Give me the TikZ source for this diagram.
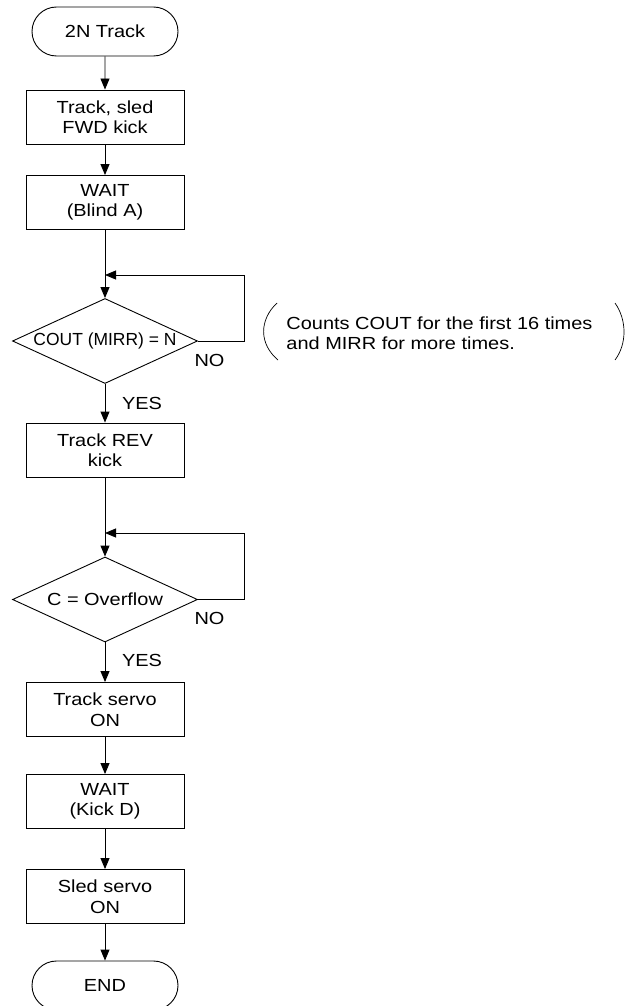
\documentclass[tikz,border=0pt]{standalone}
\usepackage{fontspec}
\setmainfont{Liberation Sans}[FakeStretch=1.14]
\usetikzlibrary{shapes.geometric,shapes.misc,arrows.meta}
\begin{document}
\begin{tikzpicture}[x=1pt,y=-1pt,
  font=\fontsize{17.5}{20.5}\selectfont,
  line width=0.9pt,
  proc/.style={draw, minimum width=158pt, minimum height=54pt, align=center, inner sep=0pt},
  term/.style={draw, rounded rectangle, minimum width=146pt, minimum height=49pt, inner sep=0pt},
  dec/.style={draw, diamond, minimum width=185pt, minimum height=85pt, inner sep=0pt},
  arr/.style={-{Triangle[length=11pt,width=9pt]}},
  lbl/.style={inner sep=0pt},
  paren/.style={line width=0.7pt}]
\useasboundingbox (0,0) rectangle (626,1006);

\node[term] (start) at (105,31.5) {2N Track};
\node[proc] (b1) at (105,117) {Track, sled\\FWD kick};
\node[proc] (b2) at (105,202.5) {WAIT\\(Blind A)};
\node[dec] (d1) at (105,341) {\makebox[0pt]{\scalebox{0.875}[1]{COUT (MIRR) = N}}};
\node[proc] (b3) at (105,450) {Track REV\\kick};
\node[dec] (d2) at (105,599.5) {\makebox[0pt]{C = Overflow}};
\node[proc] (b4) at (105,709.5) {Track servo\\ON};
\node[proc] (b5) at (105,801.5) {WAIT\\(Kick D)};
\node[proc] (b6) at (105,896.5) {Sled servo\\ON};
\node[term] (stop) at (105,985.5) {END};

\node[lbl] (no1) at (209.5,360) {NO};
\node[lbl] (yes1) at (142,403) {YES};
\node[lbl] (no2) at (209.5,618) {NO};
\node[lbl] (yes2) at (142,660) {YES};

\node[anchor=west, align=left, inner sep=0pt] (note) at (286,333)
  {Counts COUT for the first 16 times\\and MIRR for more times.};
\draw[paren] (277,303) .. controls (259,320) and (259,344) .. (278,360);
\draw[paren] (615,303) .. controls (627,320) and (627,344) .. (615,360);

\coordinate (j1) at (105,275);
\coordinate (r1) at (244,275);
\coordinate (j2) at (105,533);
\coordinate (r2) at (244,533);

\draw[arr] (start) -- (b1);
\draw[arr] (b1) -- (b2);
\draw[arr] (b2) -- (d1);
\draw[arr] (d1.east) -| (r1) -- (j1);
\draw[arr] (d1) -- (b3);
\draw[arr] (b3) -- (d2);
\draw[arr] (d2.east) -| (r2) -- (j2);
\draw[arr] (d2) -- (b4);
\draw[arr] (b4) -- (b5);
\draw[arr] (b5) -- (b6);
\draw[arr] (b6) -- (stop);
\end{tikzpicture}
\end{document}
